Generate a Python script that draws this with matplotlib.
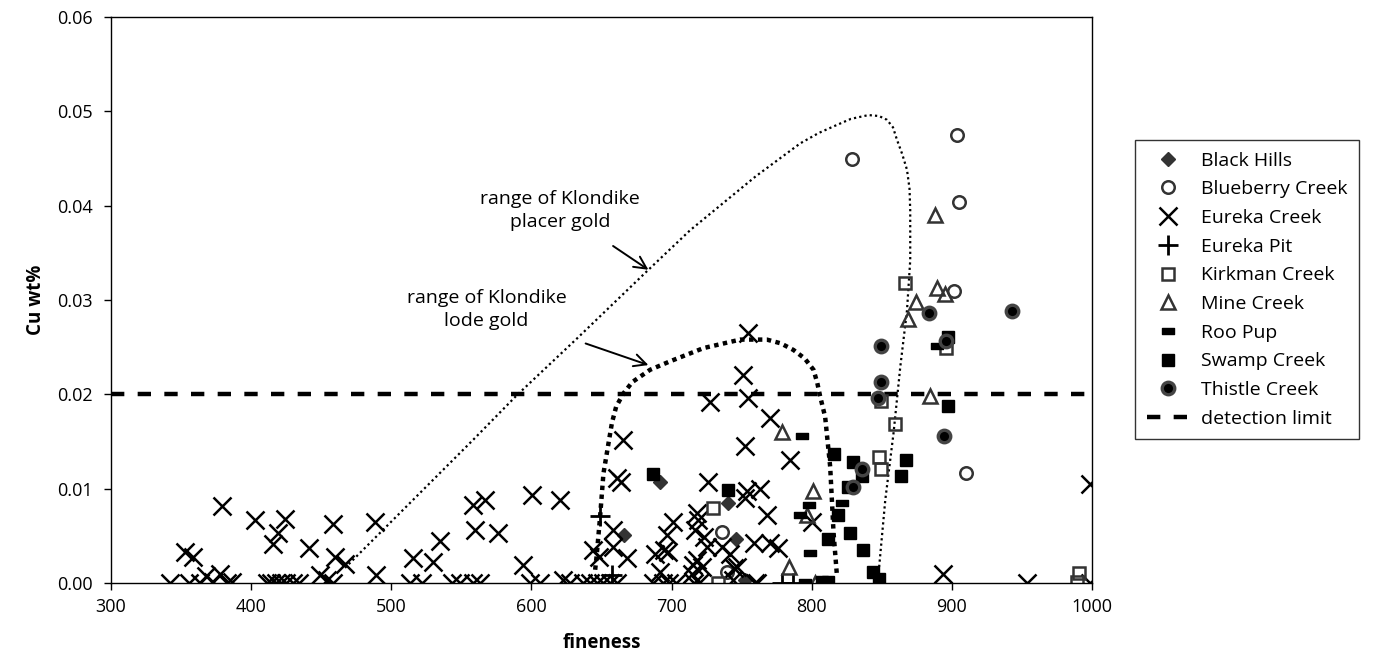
import numpy as np
import matplotlib
matplotlib.use("Agg")
import matplotlib.pyplot as plt
from matplotlib.path import Path

plt.rcParams['font.family'] = ['Open Sans', 'DejaVu Sans']

# ---- data (fineness, Cu wt%) ----
black_hills_x = [666.1, 691.8, 740.1, 746.1, 752.5]
black_hills_y = [0.0051, 0.0107, 0.0085, 0.0047, 0.0003]

blueberry_x = [903.6, 828.7, 904.8, 901.3, 910.3, 735.8, 739.4]
blueberry_y = [0.0475, 0.0449, 0.0404, 0.0310, 0.0117, 0.0054, 0.0012]

eureka_creek_x = [342.2, 352.8, 358.8, 355.9, 363.5, 367.8, 373.0, 377.7, 379.0, 382.6,
                  386.1, 402.8, 415.9, 419.4, 424.2, 411.0, 414.0, 417.5, 421.0, 424.8,
                  429.8, 434.0, 441.6, 449.3, 453.9, 458.6, 459.9, 458.6, 467.0, 488.4,
                  489.0, 515.8, 513.4, 521.7, 530.0, 534.8, 543.0, 549.0, 558.6, 559.8,
                  567.0, 558.0, 563.0, 576.3, 594.3, 600.3, 620.5, 599.0, 606.2, 622.7,
                  627.6, 637.0, 642.0, 646.6, 651.3, 656.0, 661.0, 644.2, 647.9, 658.5,
                  658.5, 661.0, 664.0, 668.0, 687.0, 691.8, 688.3, 694.3, 697.8, 696.6,
                  700.9, 694.0, 698.0, 703.4, 715.5, 719.2, 718.0, 716.8, 722.8, 725.1,
                  718.0, 721.5, 714.5, 715.7, 719.3, 726.3, 735.8, 741.8, 746.6, 744.2,
                  759.7, 752.5, 784.6, 753.5, 752.5, 763.2, 768.0, 758.5, 770.4, 776.3,
                  744.3, 760.8, 754.9, 751.3, 727.6, 754.9, 770.4, 665.7, 800.0, 894.0,
                  953.6, 998.8, 998.8]
eureka_creek_y = [0.0, 0.0033, 0.0028, 0.0, 0.0, 0.0007, 0.0001, 0.0010, 0.0082, 0.0,
                  0.0001, 0.0067, 0.0041, 0.0053, 0.0068, 0.0, 0.0, 0.0, 0.0, 0.0,
                  0.0, 0.0, 0.0037, 0.0008, 0.0003, 0.0063, 0.0028, 0.0, 0.0020, 0.0065,
                  0.0008, 0.0027, 0.0, 0.0, 0.0022, 0.0044, 0.0, 0.0, 0.0083, 0.0056,
                  0.0088, 0.0, 0.0, 0.0053, 0.0019, 0.0093, 0.0088, 0.0, 0.0, 0.0003,
                  0.0, 0.0, 0.0, 0.0, 0.0, 0.0, 0.0, 0.0035, 0.0028, 0.0056,
                  0.0038, 0.0111, 0.0107, 0.0026, 0.0, 0.0012, 0.0031, 0.0035, 0.0033, 0.0051,
                  0.0065, 0.0, 0.0, 0.0, 0.0019, 0.0067, 0.0074, 0.0056, 0.0049, 0.0038,
                  0.0024, 0.0017, 0.0010, 0.0, 0.0, 0.0107, 0.0038, 0.0031, 0.0017, 0.0003,
                  0.0, 0.0145, 0.0130, 0.0097, 0.0090, 0.0100, 0.0072, 0.0042, 0.0042, 0.0037,
                  0.0016, 0.0, 0.0265, 0.0220, 0.0192, 0.0196, 0.0175, 0.0152, 0.0065, 0.0010,
                  0.0, 0.0, 0.0105]

eureka_pit_x = [649.1, 657.4, 779.0, 787.0]
eureka_pit_y = [0.0071, 0.0008, 0.0, 0.0]

kirkman_x = [729.8, 733.4, 866.4, 859.5, 849.3, 848.2, 849.3, 895.7, 990.4, 989.3]
kirkman_y = [0.0079, 0.0, 0.0318, 0.0169, 0.0193, 0.0134, 0.0121, 0.0249, 0.0011, 0.0001]

mine_x = [888.2, 889.3, 895.3, 874.6, 868.4, 884.6, 778.7, 801.0, 796.5, 784.1, 802.4]
mine_y = [0.0390, 0.0313, 0.0306, 0.0298, 0.0280, 0.0198, 0.0160, 0.0098, 0.0072, 0.0017, 0.0]

roo_pup_x = [792.9, 798.4, 821.7, 791.8, 798.9, 795.4, 889.3]
roo_pup_y = [0.0156, 0.0083, 0.0085, 0.0072, 0.0032, 0.0001, 0.0251]

swamp_x = [686.7, 740.6, 816.0, 829.5, 835.8, 825.6, 867.6, 863.6, 819.1, 827.2,
           811.8, 836.3, 843.8, 847.7, 807.7, 811.3, 897.0, 897.0]
swamp_y = [0.0115, 0.0099, 0.0137, 0.0128, 0.0113, 0.0102, 0.0130, 0.0113, 0.0072, 0.0053,
           0.0047, 0.0035, 0.0012, 0.0004, 0.0001, 0.0001, 0.0188, 0.0261]

thistle_x = [883.4, 849.3, 849.3, 847.0, 894.5, 835.8, 829.2, 895.7, 943.1]
thistle_y = [0.0286, 0.0251, 0.0213, 0.0196, 0.0156, 0.0121, 0.0102, 0.0256, 0.0288]

detection_limit = 0.02

# outlines of the Klondike ranges
placer_x = [467.0, 558.6, 589.6, 632.4, 683.5, 713.3, 760.0, 791.8, 805.0, 815.6,
            828.0, 840.5, 848.0, 853.7, 858.0, 860.8, 864.5, 868.0, 869.8, 870.3,
            870.3, 868.0, 863.2, 858.4, 852.5, 847.7]
placer_y = [0.0016, 0.0152, 0.0199, 0.0259, 0.0332, 0.0374, 0.0431, 0.0466, 0.0477, 0.0484,
            0.0492, 0.0496, 0.0495, 0.0491, 0.0483, 0.0470, 0.0455, 0.0438, 0.0418, 0.0395,
            0.0342, 0.0289, 0.0229, 0.0159, 0.0088, 0.0010]

lode_x = [645.5, 646.7, 649.0, 651.4, 655.0, 657.5, 660.5, 665.7, 672.0, 684.7,
          699.0, 722.8, 749.0, 768.0, 778.0, 787.0, 795.0, 801.3, 804.0, 806.0,
          809.6, 813.2, 815.6, 818.0]
lode_y = [0.0014, 0.0031, 0.0070, 0.0116, 0.0148, 0.0170, 0.0187, 0.0201, 0.0213, 0.0226,
          0.0235, 0.0249, 0.0258, 0.0258, 0.0254, 0.0247, 0.0238, 0.0226, 0.0212, 0.0198,
          0.0176, 0.0123, 0.0053, 0.0008]

# ---- figure ----
fig = plt.figure(figsize=(13.8, 6.63), dpi=100)
ax = fig.add_axes([0.0804, 0.1207, 0.7109, 0.8537])

gray = '#333333'
bar = Path([(-1, -0.42), (1, -0.42), (1, 0.42), (-1, 0.42), (-1, -0.42)],
           [Path.MOVETO, Path.LINETO, Path.LINETO, Path.LINETO, Path.CLOSEPOLY])

ax.plot(placer_x, placer_y, color='black', linestyle=(0, (1, 1.4)), linewidth=1.6, zorder=1)
ax.plot(lode_x, lode_y, color='black', linestyle=(0, (1, 1)), linewidth=3.2, zorder=1)

ax.plot(black_hills_x, black_hills_y, linestyle='none', marker='D', markersize=7,
        color=gray, label='Black Hills')
ax.plot(blueberry_x, blueberry_y, linestyle='none', marker='o', markersize=9,
        markerfacecolor='white', markeredgecolor=gray, markeredgewidth=1.8, label='Blueberry Creek')
ax.plot(eureka_creek_x, eureka_creek_y, linestyle='none', marker='x', markersize=13,
        color='black', markeredgewidth=1.8, label='Eureka Creek')
ax.plot(eureka_pit_x, eureka_pit_y, linestyle='none', marker='+', markersize=14,
        color='black', markeredgewidth=2, label='Eureka Pit')
ax.plot(kirkman_x, kirkman_y, linestyle='none', marker='s', markersize=9,
        markerfacecolor='none', markeredgecolor=gray, markeredgewidth=1.8, label='Kirkman Creek')
ax.plot(mine_x, mine_y, linestyle='none', marker='^', markersize=10,
        markerfacecolor='none', markeredgecolor=gray, markeredgewidth=1.8, label='Mine Creek')
ax.plot(roo_pup_x, roo_pup_y, linestyle='none', marker=bar, markersize=9,
        color='black', label='Roo Pup')
ax.plot(swamp_x, swamp_y, linestyle='none', marker='s', markersize=8,
        color='black', label='Swamp Creek')
ax.plot(thistle_x, thistle_y, linestyle='none', marker='o', markersize=9,
        markerfacecolor='black', markeredgecolor='#444444', markeredgewidth=2.4, label='Thistle Creek')
ax.axhline(detection_limit, color='black', linestyle=(0, (3, 3)), linewidth=3.2,
           label='detection limit', zorder=0.5)

ax.annotate('range of Klondike\nplacer gold', xy=(683.5, 0.0332), xytext=(620.5, 0.0395),
            ha='center', va='center', fontsize=14, linespacing=1.35,
            arrowprops=dict(arrowstyle='->', color='black', lw=1.4, mutation_scale=22,
                            shrinkA=16, shrinkB=0))
ax.annotate('range of Klondike\nlode gold', xy=(683.5, 0.0231), xytext=(568, 0.029),
            ha='center', va='center', fontsize=14, linespacing=1.35,
            arrowprops=dict(arrowstyle='->', color='black', lw=1.4, mutation_scale=22,
                            shrinkA=24, shrinkB=0))

ax.set_xlim(300, 1000)
ax.set_ylim(0, 0.06)
ax.set_xticks(np.arange(300, 1001, 100))
ax.set_yticks(np.arange(0, 0.0601, 0.01))
ax.set_yticklabels([f'{v:.2f}' for v in np.arange(0, 0.0601, 0.01)])
ax.tick_params(direction='out', length=5, width=1, labelsize=13)
ax.tick_params(axis='y', pad=8)
ax.tick_params(axis='x', pad=6)
for s in ax.spines.values():
    s.set_linewidth(1)
ax.set_xlabel('fineness', fontsize=13.5, fontweight='bold', labelpad=12)
ax.set_ylabel('Cu wt%', fontsize=13.5, fontweight='bold', labelpad=8)

leg = fig.legend(loc='upper left', bbox_to_anchor=(0.8225, 0.789), fontsize=14,
                 frameon=True, fancybox=False, edgecolor='black', handlelength=2.2,
                 labelspacing=0.55, borderpad=0.6, handletextpad=0.6, borderaxespad=0)
leg.get_frame().set_linewidth(1)

fig.savefig('out.png', dpi=100)
